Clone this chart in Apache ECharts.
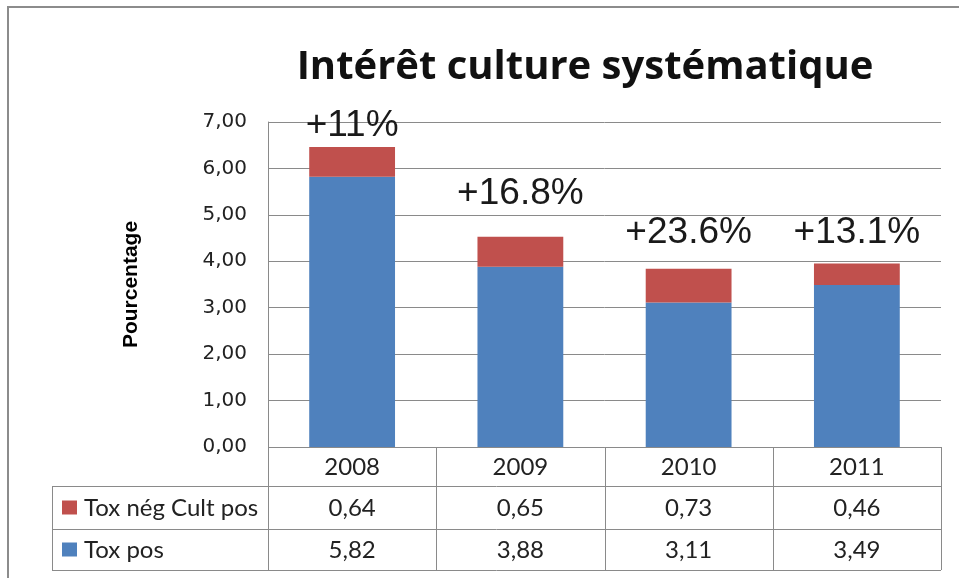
<!DOCTYPE html>
<html><head><meta charset="utf-8">
<script src="https://cdn.jsdelivr.net/npm/echarts@6/dist/echarts.min.js"></script>
<style>html,body{margin:0;padding:0;background:#fff}#c{width:959px;height:578px}</style>
</head><body><div id="c"></div>
<script>
const categories = ['2008', '2009', '2010', '2011'];
const seriesNames = ['Tox nég Cult pos', 'Tox pos'];
const toxNegCultPos = [0.64, 0.65, 0.73, 0.46];
const toxPos = [5.82, 3.88, 3.11, 3.49];
const increaseLabels = ['+11%', '+16.8%', '+23.6%', '+13.1%'];
const titleText = 'Intérêt culture systématique';
const yAxisName = 'Pourcentage';

const chart = echarts.init(document.getElementById('c'), null, {renderer: 'canvas'});
const GL = 268, GR = 18, GT = 122, GB = 131;
const fmt = v => v.toFixed(2).replace('.', ',');
const lift = [3, 24, 17, 12];
const BLUE = '#4F81BD', RED = '#C0504D', LINE = '#8a8a8a';

chart.setOption({
  animation: false,
  grid: {left: GL, right: GR, top: GT, bottom: GB, containLabel: false},
  xAxis: {
    type: 'category', data: categories,
    axisLine: {show: false}, axisTick: {show: false}, axisLabel: {show: false}
  },
  yAxis: {
    type: 'value', min: 0, max: 7, interval: 1,
    name: yAxisName, nameLocation: 'middle', nameRotate: 90, nameGap: 126,
    nameTextStyle: {fontFamily: 'Liberation Sans', fontWeight: 'bold', fontSize: 21, color: '#000'},
    axisLine: {show: true, lineStyle: {color: LINE, width: 1}},
    axisTick: {show: false},
    splitLine: {lineStyle: {color: LINE, width: 1}},
    axisLabel: {formatter: fmt, fontFamily: 'DejaVu Sans', fontSize: 20, color: '#222', margin: 21}
  },
  series: [
    {
      name: seriesNames[1], type: 'bar', stack: 'a', barWidth: '51%',
      itemStyle: {color: BLUE}, data: toxPos
    },
    {
      name: seriesNames[0], type: 'bar', stack: 'a', barWidth: '51%',
      itemStyle: {color: RED},
      data: toxNegCultPos.map((v, i) => ({
        value: v,
        label: {show: true, position: 'top', distance: lift[i], formatter: increaseLabels[i],
          fontFamily: 'Liberation Sans', fontSize: 37, color: '#1a1a1a'}
      }))
    }
  ]
});

// Title, border and data table
const W = 959;
const plotR = W - GR, plotB = 578 - GB;
const rows = [plotB, 486, 529, 570];
const tableL = 52;
const colW = (plotR - GL) / categories.length;
const g = [];
g.push({type: 'rect', shape: {x: 8, y: 7, width: 1000, height: 640},
  style: {fill: 'none', stroke: '#8c8c8c', lineWidth: 2}, silent: true});
g.push({type: 'text', x: 585, y: 68,
  style: {text: titleText, font: 'bold 40px "Open Sans"', fill: '#111', align: 'center', verticalAlign: 'middle'}});
// horizontal lines
g.push({type: 'line', shape: {x1: GL, y1: rows[0] + 0.5, x2: plotR, y2: rows[0] + 0.5}, style: {stroke: LINE, lineWidth: 1}});
for (let r = 1; r < rows.length; r++) {
  g.push({type: 'line', shape: {x1: tableL, y1: rows[r] + 0.5, x2: plotR, y2: rows[r] + 0.5}, style: {stroke: LINE, lineWidth: 1}});
}
// vertical lines
g.push({type: 'line', shape: {x1: tableL + 0.5, y1: rows[1], x2: tableL + 0.5, y2: rows[3]}, style: {stroke: LINE, lineWidth: 1}});
for (let c = 0; c <= categories.length; c++) {
  const x = Math.round(GL + c * colW) + 0.5;
  g.push({type: 'line', shape: {x1: x, y1: rows[0], x2: x, y2: rows[3]}, style: {stroke: LINE, lineWidth: 1}});
}
const tf = '24px Lato';
const rowVals = [toxNegCultPos, toxPos];
categories.forEach((cat, i) => {
  const cx = chart.convertToPixel({xAxisIndex: 0}, cat);
  g.push({type: 'text', x: cx, y: (rows[0] + rows[1]) / 2 + 1,
    style: {text: cat, font: tf, fill: '#222', align: 'center', verticalAlign: 'middle'}});
  rowVals.forEach((arr, r) => {
    g.push({type: 'text', x: cx, y: (rows[r + 1] + rows[r + 2]) / 2 + 1,
      style: {text: fmt(arr[i]), font: tf, fill: '#222', align: 'center', verticalAlign: 'middle'}});
  });
});
[RED, BLUE].forEach((col, r) => {
  const cy = (rows[r + 1] + rows[r + 2]) / 2;
  g.push({type: 'rect', shape: {x: 62, y: cy - 7, width: 15, height: 14}, style: {fill: col}});
  g.push({type: 'text', x: 84, y: cy + 1,
    style: {text: seriesNames[r], font: tf, fill: '#222', align: 'left', verticalAlign: 'middle'}});
});
chart.setOption({graphic: {elements: g}});
</script>
</body></html>
